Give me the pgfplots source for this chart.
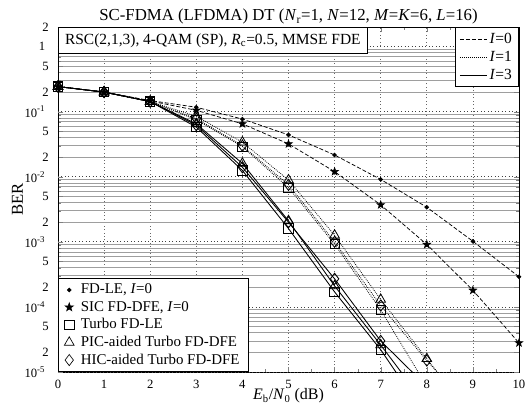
\documentclass[border=0pt]{standalone}
\usepackage{fontspec}
\setmainfont{Liberation Serif}
\usepackage{pgfplots}
\pgfplotsset{compat=1.18}

\pgfdeclareplotmark{fstar}{%
  \pgfpathmoveto{\pgfpointpolar{90}{\pgfplotmarksize}}%
  \pgfpathlineto{\pgfpointpolar{126}{0.4\pgfplotmarksize}}%
  \pgfpathlineto{\pgfpointpolar{162}{\pgfplotmarksize}}%
  \pgfpathlineto{\pgfpointpolar{198}{0.4\pgfplotmarksize}}%
  \pgfpathlineto{\pgfpointpolar{234}{\pgfplotmarksize}}%
  \pgfpathlineto{\pgfpointpolar{270}{0.4\pgfplotmarksize}}%
  \pgfpathlineto{\pgfpointpolar{306}{\pgfplotmarksize}}%
  \pgfpathlineto{\pgfpointpolar{342}{0.4\pgfplotmarksize}}%
  \pgfpathlineto{\pgfpointpolar{18}{\pgfplotmarksize}}%
  \pgfpathlineto{\pgfpointpolar{54}{0.4\pgfplotmarksize}}%
  \pgfpathclose\pgfusepathqfillstroke}

\tikzset{
  i0/.style={black, line width=0.55pt, dash pattern=on 3pt off 1.5pt},
  i1/.style={black, line width=0.6pt, dash pattern=on 0.6pt off 0.9pt},
  i3/.style={black, line width=0.65pt, solid},
  mdot/.style={mark=*, mark size=1.4pt, mark options={solid, fill=black}},
  mstar/.style={mark=fstar, mark size=2.9pt, mark options={solid, fill=black}},
  msq/.style={mark=square, mark size=3.5pt, mark options={solid}},
  mtri/.style={mark=triangle, mark size=4.2pt, mark options={solid}},
  mdia/.style={mark=diamond, mark size=4.2pt, mark options={solid}},
}
\newcommand{\lgf}[1]{\scalebox{1.12}{#1}}
\newcommand{\lgg}[1]{\scalebox{1.16}{#1}}

\pgfplotstableread{
x   y
0   0.243
1   0.200
2   0.148
3   0.117
4   0.077
5   0.044
6   0.0216
7   0.0091
8   0.0034
9   0.00102
10  0.00029
}\fdle
\pgfplotstableread{
x   y
0   0.243
1   0.200
2   0.146
3   0.105
4   0.065
5   0.032
6   0.012
7   0.0037
8   0.00091
9   0.00018
10  0.000028
}\sic
\pgfplotstableread{
x   y
0   0.243
1   0.200
2   0.143
3   0.075
4   0.029
5   0.0068
6   0.00092
7   0.00009
8   0.000006
}\leone
\pgfplotstableread{
x   y
0   0.243
1   0.200
2   0.143
3   0.085
4   0.034
5   0.0089
6   0.00126
7   0.00013
8   0.000016
9   0.000002
}\picone
\pgfplotstableread{
x   y
0   0.243
1   0.200
2   0.143
3   0.078
4   0.030
5   0.0075
6   0.00100
7   0.000105
8   0.000015
9   0.0000025
}\hicone
\pgfplotstableread{
x   y
0   0.243
1   0.200
2   0.143
3   0.058
4   0.0125
5   0.0016
6   0.00017
7   0.000022
8   0.000002
}\lethree
\pgfplotstableread{
x   y
0   0.243
1   0.200
2   0.143
3   0.065
4   0.016
5   0.0021
6   0.00021
7   0.000026
8   0.000003
}\picthree
\pgfplotstableread{
x   y
0   0.243
1   0.200
2   0.143
3   0.062
4   0.014
5   0.0020
6   0.00027
7   0.000030
8   0.000006
}\hicthree

\begin{document}
\begin{tikzpicture}
\begin{axis}[name=ax,
  width=345.75pt, height=258.75pt, scale only axis,
  xmin=0, xmax=10, ymode=log, ymin=1e-5, ymax=2,
  /pgf/number format/assume math mode=true,
  tick label style={font=\fontsize{9.5}{10}\selectfont},
  xtick={0,1,...,10}, minor x tick num=1,
  ytick={2e-5,5e-5,2e-4,5e-4,2e-3,5e-3,2e-2,5e-2,0.2,0.5,2},
  yticklabels={2,5,2,5,2,5,2,5,2,5,2},
  minor ytick={3e-5,4e-5,6e-5,7e-5,8e-5,9e-5,3e-4,4e-4,6e-4,7e-4,8e-4,9e-4,3e-3,4e-3,6e-3,7e-3,8e-3,9e-3,3e-2,4e-2,6e-2,7e-2,8e-2,9e-2,0.3,0.4,0.6,0.7,0.8,0.9},
  extra y ticks={1e-5,1e-4,1e-3,1e-2,1e-1,1},
  extra y tick labels={10\textsuperscript{-5},10\textsuperscript{-4},10\textsuperscript{-3},10\textsuperscript{-2},10\textsuperscript{-1},1},
  extra y tick style={major grid style={dotted, black!75, line width=0.6pt}, yticklabel style={xshift=-2.5pt}},
  xmajorgrids, ymajorgrids, yminorgrids,
  major grid style={black!38, line width=0.6pt},
  minor grid style={black!38, line width=0.6pt},
  x grid style={dotted, black!60, line width=0.5pt},
  tick align=inside, major tick length=4pt, minor tick length=2.5pt,
  xticklabel style={anchor=base, yshift=-12pt},
  yticklabel style={anchor=east, xshift=-3.5pt},
  title={SC-FDMA (LFDMA) DT (\textit{N}\textsubscript{r}=1, \textit{N}=12, \textit{M}=\textit{K}=6, \textit{L}=16)},
  title style={at={(axis description cs:0.5,1.018)}, anchor=base, yshift=-6pt, font=\fontsize{12.6}{14}\selectfont},
  xlabel={\textit{E}\textsubscript{b}/\textit{N}\textsubscript{0} (dB)},
  xlabel style={at={(axis description cs:0.5,-0.081)}, anchor=base, font=\fontsize{12}{14}\selectfont},
  ylabel={BER},
  ylabel style={at={(axis description cs:-0.088,0.5)}, anchor=center, font=\fontsize{12.5}{14}\selectfont},
  legend cell align=left,
  legend style={at={(0,0)}, anchor=south west,
    draw=black, line width=0.6pt, fill=white, inner xsep=4.5pt, inner ysep=2pt, row sep=0pt, column sep=3pt},
]
\addplot[i0, mdot, forget plot] table {\fdle};
\addplot[i0, mstar, forget plot] table {\sic};
\addplot[i1, msq, forget plot] table {\leone};
\addplot[i1, mtri, forget plot] table {\picone};
\addplot[i1, mdia, forget plot] table {\hicone};
\addplot[i3, msq, forget plot] table {\lethree};
\addplot[i3, mtri, forget plot] table {\picthree};
\addplot[i3, mdia, forget plot] table {\hicthree};

\addlegendimage{only marks, mdot, line width=0.5pt}
\addlegendentry{\lgf{FD-LE, \textit{I}=0}}
\addlegendimage{only marks, mstar, mark size=3.2pt, line width=0.5pt}
\addlegendentry{\lgf{SIC FD-DFE, \textit{I}=0}}
\addlegendimage{only marks, msq, line width=0.5pt}
\addlegendentry{\lgf{Turbo FD-LE}}
\addlegendimage{only marks, mtri, line width=0.5pt}
\addlegendentry{\lgf{PIC-aided Turbo FD-DFE}}
\addlegendimage{only marks, mdia, line width=0.5pt}
\addlegendentry{\lgf{HIC-aided Turbo FD-DFE}}

\node[draw=black, line width=0.6pt, fill=white, anchor=north west, inner xsep=5pt, minimum height=19.5pt,
  font=\fontsize{11.6}{13}\selectfont] at (axis description cs:0,1)
  {RSC(2,1,3), 4-QAM (SP), \textit{R}\textsubscript{c}=0.5, MMSE FDE};
\end{axis}

\begin{axis}[at={(ax.south west)}, anchor=south west,
  width=345.75pt, height=258.75pt, scale only axis,
  xmin=0, xmax=10, ymin=0, ymax=1, hide axis,
  legend style={at={(1,1)}, anchor=north east,
    draw=black, line width=0.6pt, fill=white, row sep=0.5pt, inner ysep=2pt},
  legend image code/.code={\draw[#1] (0pt,0pt) -- (20pt,0pt);},
  legend cell align=left]
\addlegendimage{i0}
\addlegendentry{\lgg{\textit{I}=0}}
\addlegendimage{i1}
\addlegendentry{\lgg{\textit{I}=1}}
\addlegendimage{i3}
\addlegendentry{\lgg{\textit{I}=3}}
\end{axis}

\pgfresetboundingbox
\path[shift={(ax.south west)}] (-43.5pt,-34.5pt) rectangle (351pt,279pt);
\end{tikzpicture}
\end{document}
